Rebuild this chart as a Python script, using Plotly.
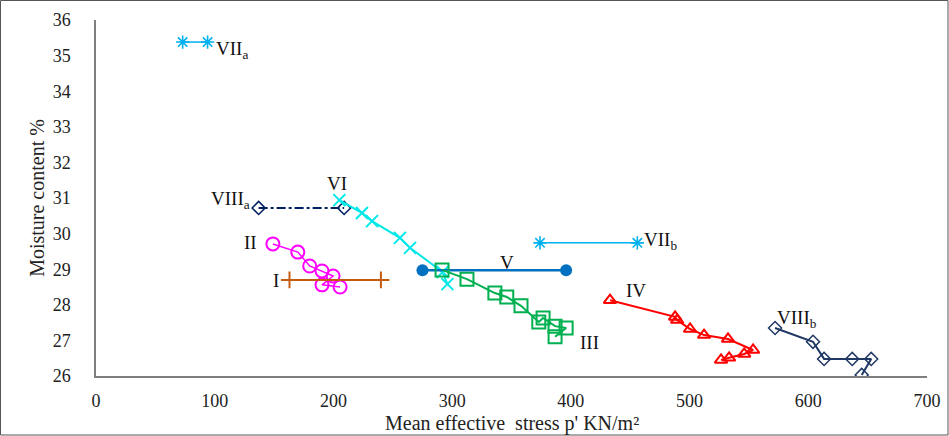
import plotly.graph_objects as go

# ---- data (mean effective stress p', moisture content %) ----
vii_a_x = [73, 94]
vii_a_y = [35.38, 35.38]

viii_a_x = [137, 209]
viii_a_y = [30.72, 30.72]

vi_x = [205, 224, 232.5, 256, 264.5, 292, 296]
vi_y = [30.94, 30.58, 30.35, 29.88, 29.6, 28.92, 28.58]

ii_x = [149, 170, 180, 190.4, 199.7, 190.4, 205.6]
ii_y = [29.71, 29.48, 29.09, 28.95, 28.81, 28.56, 28.5]

i_x = [163, 240]
i_y = [28.7, 28.7]

v_x = [275, 396]
v_y = [28.97, 28.97]

iii_x = [291.5, 312.5, 336, 346, 358, 373, 376.6, 386.7, 396, 386.7]
iii_y = [28.98, 28.72, 28.33, 28.22, 27.97, 27.52, 27.63, 27.4, 27.35, 27.1]

iv_x = [433, 487.8, 489.5, 500.4, 512.2, 532.4, 553.5, 546, 533.3, 526.5]
iv_y = [28.13, 27.66, 27.57, 27.32, 27.15, 27.04, 26.73, 26.62, 26.51, 26.45]

viii_b_x = [572, 604, 613.3, 637, 653, 645]
viii_b_y = [27.35, 26.96, 26.48, 26.48, 26.48, 26.03]

vii_b_x = [374, 456]
vii_b_y = [29.74, 29.74]

labels = ["VII<sub>a</sub>", "VIII<sub>a</sub>", "VI", "II", "I", "V", "III", "IV",
          "VII<sub>b</sub>", "VIII<sub>b</sub>"]
label_x = [99, 131, 203, 137, 156, 346, 406, 445, 460, 572]
label_y = [35.15, 30.95, 31.4, 29.75, 28.68, 29.2, 26.95, 28.4, 29.8, 27.6]
label_anchor = ["left", "right", "center", "right", "right", "center", "left", "left", "left", "left"]

x_title = "Mean effective  stress p' KN/m²"
y_title = "Moisture content %"

FONT = "Liberation Serif"

fig = go.Figure()

def add(x, y, color, symbol, size, dash="solid", width=2, mwidth=1.6):
    fig.add_trace(go.Scatter(
        x=x, y=y, mode="lines+markers",
        line=dict(color=color, width=width, dash=dash),
        marker=dict(symbol=symbol, size=size, color=color,
                    line=dict(color=color, width=mwidth)),
        showlegend=False, hoverinfo="x+y"))

add(vii_a_x, vii_a_y, "#00B0F0", "asterisk-open", 11, width=1.5)
add(viii_a_x, viii_a_y, "#002060", "diamond-open", 10, dash="dashdot", width=2)
add(vi_x, vi_y, "#00E8E8", "x-thin-open", 12, width=2, mwidth=2)
add(ii_x, ii_y, "#FF00FF", "circle-open", 13, width=1.5, mwidth=2)
add(i_x, i_y, "#C55A11", "cross-thin-open", 12, width=2, mwidth=2)
add(v_x, v_y, "#0070C0", "circle", 12, width=2.5, mwidth=0)
add(iii_x, iii_y, "#00B050", "square-open", 13, width=2, mwidth=2)
add(iv_x, iv_y, "#FF0000", "triangle-up-open", 11, width=2, mwidth=2)
add(viii_b_x, viii_b_y, "#203864", "diamond-open", 10, width=2, mwidth=1.5)
add(vii_b_x, vii_b_y, "#00B0F0", "asterisk-open", 11, width=1.5)

for t, x, y, a in zip(labels, label_x, label_y, label_anchor):
    fig.add_annotation(x=x, y=y, text=t, showarrow=False, xanchor=a, yanchor="middle",
                       font=dict(family=FONT, size=19, color="#111111"))

W, H = 949, 436
ml, mr, mt, mb = 96, 22, 20, 60
pw, ph = W - ml - mr, H - mt - mb

# x-axis title as annotation, placed low like the reference
fig.add_annotation(xref="paper", yref="paper", x=0.5, y=-(423 - (H - mb)) / ph,
                   text=x_title, showarrow=False, xanchor="center", yanchor="middle",
                   font=dict(family=FONT, size=20, color="#222222"))

fig.add_shape(type="rect", xref="paper", yref="paper",
              x0=(-ml + 0.5) / pw, x1=1 + (mr - 1) / pw,
              y0=(-mb + 1) / ph, y1=1 + (mt - 0.5) / ph,
              line=dict(color="#555555", width=1), layer="below")

fig.update_layout(
    width=W, height=H,
    margin=dict(l=ml, r=mr, t=mt, b=mb),
    plot_bgcolor="white", paper_bgcolor="white",
    font=dict(family=FONT, size=17, color="#222222"),
    xaxis=dict(range=[0, 700], tickvals=[0, 100, 200, 300, 400, 500, 600, 700],
               showgrid=False, zeroline=False, showline=True, linecolor="#7f7f7f",
               linewidth=1.5, ticks="", ticklabelstandoff=8, automargin=False,
               tickfont=dict(family=FONT, size=18)),
    yaxis=dict(range=[26, 36], tickvals=list(range(26, 37)),
               showgrid=False, zeroline=False, showline=True, linecolor="#7f7f7f",
               linewidth=1.5, ticks="", ticklabelstandoff=20, automargin=False,
               tickfont=dict(family=FONT, size=18),
               title=dict(text=y_title, standoff=3,
                          font=dict(family=FONT, size=20))),
)

fig.write_html("out.html")
